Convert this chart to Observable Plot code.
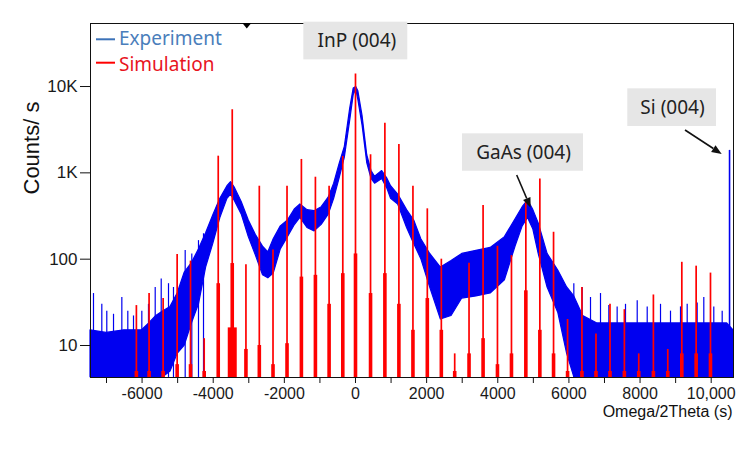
<!DOCTYPE html>
<html>
<head>
<meta charset="utf-8">
<script src="https://cdn.jsdelivr.net/npm/d3@7"></script>
<script src="https://cdn.jsdelivr.net/npm/@observablehq/plot@0.6"></script>
<style>
  html, body { margin: 0; padding: 0; background: #fff; }
  #chart svg { display: block; }
</style>
</head>
<body>
<div id="chart"></div>
<script>
// ---------- data ----------
// Experiment: envelope of the noisy measured curve (x in s, counts/s)
const expX  = [-7450,-7000,-6500,-6000,-5800,-5600,-5400,-5200,-5000,-4800,-4600,-4400,-4200,-4000,-3800,-3600,-3500,-3400,-3200,-3000,-2800,-2600,-2450,-2300,-2100,-1900,-1700,-1550,-1350,-1150,-950,-750,-600,-450,-300,-150,-50,20,80,200,330,450,550,750,900,1000,1200,1450,1650,1850,2100,2400,2700,3000,3400,3800,4200,4500,4700,4850,5000,5150,5400,5700,5950,6150,6400,6800,7500,8500,9500,10450,10627];
const expLo = [4.3,4.3,4.3,4.3,4.3,4.3,4.3,5,8,10,18,30,80,150,300,500,560,480,330,180,110,65,60,68,130,180,250,300,230,210,250,330,500,850,1500,4000,8000,9200,7000,3500,1300,850,750,850,650,500,430,230,150,100,47,20,22,35,37,40,57,140,240,300,220,115,47,24,8,4.3,4.3,4.3,4.3,4.3,4.3,4.3,4.3];
const expHi = [15,14,15,15,18,22,25,28,40,70,90,130,200,320,500,700,780,680,460,280,190,140,120,170,240,280,380,430,370,360,400,520,750,1250,2000,5500,9500,9900,8800,4500,1600,1050,900,1050,850,700,560,370,280,170,115,80,95,115,125,135,180,290,400,480,370,260,115,74,47,37,22,18,18,18,18,18,15];
// Noise spikes of the experiment in the background regions
const spikeX = [-7366,-7132,-6992,-6803,-6569,-6401,-6241,-6007,-5820,-5631,-5462,-5257,-5117,-4788,-4602,-4414,-4273,
                6138,6373,6607,6888,7122,7356,7591,7920,8201,8575,8856,9137,9325,9606,9792,10073,10309];
const spikeY = [40,30,25,23,36,25,22,25,30,47,59,52,47,126,115,164,197,
                52,47,36,40,29,28,30,33,28,30,25,28,30,31,36,28,25];
// Si (004) substrate peak
const siX = [10516];
const siY = [1820];

// Simulation: satellite peaks (position, peak height, height of the broad base)
const simX = [-6160,-5803,-5408,-5014,-4638,-4254,-3859,-3465,-3080,-2704,-2319,-1925,-1521,-1127,-742,-357,0,423,826,1220,1615,2019,2413,2789,3192,3587,3991,4385,4789,5183,5568,5962,6366,6761,7155,7559,7963,8375,8779,9174,9577,9980];
const simPeak = [29,40,35,113,95,12,1560,5370,86,700,128,700,1430,890,700,1550,14000,1620,3760,2130,700,383,100,8,90,418,141,110,480,850,205,20,47,13.6,30,26,8,38.5,9,92,83,69];
const simBase = [5,5,5,6,6,5,52,89,9,10,6,10.5,62,65,30,68,115,40,68,30,15,35,15,5,8,12,6,8,43,15,8,5,5,5,5,5,5,5,5,8,8,8];
const clusterX = [-3465];
const clusterY = [16];

// Axes
const xTicks = d3.range(-7000, 10001, 1000);
const yTicks = [10, 100, 1000, 10000];
const yTickLabels = ["10", "100", "1K", "10K"];
const xDomain = [-7450, 10627];
const yDomain = [4.26, 53700];

// Annotations
const notes = [
  {label: "InP (004)",  x: 40,   y: 33390, x1: -1453, x2: 1470,  y1: 20370, y2: 55600},
  {label: "GaAs (004)", x: 4723, y: 1720,  x1: 3008,  x2: 6410,  y1: 1044,  y2: 2830},
  {label: "Si (004)",   x: 8912, y: 5680,  x1: 7655,  x2: 10149, y1: 3440,  y2: 9400}
];
const arrows = [
  {x1: 4546, y1: 931,  x2: 4939,  y2: 389},
  {x1: 9278, y1: 3093, x2: 10309, y2: 1631}
];
const cursorX = -3042;
const legendItems = [
  {label: "Experiment", line: "#3c72b8", text: "#4a7ebb"},
  {label: "Simulation", line: "#ff0000", text: "#e8141e"}
];

// ---------- build tables ----------
const expData = expX.map((x, i) => ({x, lo: expLo[i], hi: expHi[i]}));
const spikes = spikeX.map((x, i) => ({x, y: spikeY[i]}));
const si = siX.map((x, i) => ({x, y: siY[i]}));
const sim = simX.map((x, i) => ({x, peak: simPeak[i], base: simBase[i]}));
const cluster = clusterX.map((x, i) => ({x, y: clusterY[i]}));
const yMin = yDomain[0];

const BLUE = "#0000f0";
const RED = "#ff0000";
const TICKFONT = "'Liberation Sans', Arial, sans-serif";
const NOTEFONT = "'Noto Sans', 'Open Sans', sans-serif";

function overlay(index, scales, values, dims) {
  const g = d3.create("svg:g");
  const sx = scales.x, sy = scales.y;
  // arrows with filled heads
  for (const a of arrows) {
    const X1 = sx(a.x1), Y1 = sy(a.y1), X2 = sx(a.x2), Y2 = sy(a.y2);
    const ang = Math.atan2(Y2 - Y1, X2 - X1);
    const L = 10, W = 4;
    const bx = X2 - L * Math.cos(ang), by = Y2 - L * Math.sin(ang);
    g.append("line").attr("x1", X1).attr("y1", Y1).attr("x2", bx).attr("y2", by)
      .attr("stroke", "#111").attr("stroke-width", 1.6);
    const px = -Math.sin(ang) * W, py = Math.cos(ang) * W;
    g.append("polygon")
      .attr("points", `${X2},${Y2} ${bx + px},${by + py} ${bx - px},${by - py}`)
      .attr("fill", "#111");
  }
  // cursor triangle at top
  const cx = sx(cursorX), top = dims.marginTop;
  g.append("polygon").attr("points", `${cx - 4.5},${top} ${cx + 4.5},${top} ${cx},${top + 5.5}`).attr("fill", "#000");
  // legend
  const lx = dims.marginLeft;
  legendItems.forEach((d, i) => {
    const yl = top + 16.3 + i * 23.4;
    g.append("line").attr("x1", lx + 6).attr("x2", lx + 25).attr("y1", yl).attr("y2", yl)
      .attr("stroke", d.line).attr("stroke-width", 2);
    g.append("text").attr("x", lx + 29).attr("y", top + 21.5 + i * 26.5)
      .attr("text-anchor", "start")
      .attr("fill", d.text).attr("font-family", NOTEFONT).attr("font-size", 19)
      .text(d.label);
  });
  return g.node();
}

const chart = Plot.plot({
  width: 750,
  height: 474,
  marginLeft: 90,
  marginRight: 17,
  marginTop: 23,
  marginBottom: 97,
  style: {fontFamily: TICKFONT, color: "#1a1a1a", background: "#fff"},
  x: {type: "linear", domain: xDomain},
  y: {type: "log", domain: yDomain},
  marks: [
    // experiment
    Plot.areaY(expData, {x: "x", y1: "lo", y2: "hi", fill: BLUE, stroke: BLUE, strokeWidth: 1.2}),
    Plot.ruleX(spikes, {x: "x", y1: yMin, y2: "y", stroke: BLUE, strokeWidth: 1.2}),
    Plot.ruleX(si, {x: "x", y1: yMin, y2: "y", stroke: BLUE, strokeWidth: 1.6}),
    // simulation
    Plot.ruleX(sim, {x: "x", y1: yMin, y2: "peak", stroke: RED, strokeWidth: 1.7}),
    Plot.ruleX(sim, {x: "x", y1: yMin, y2: "base", stroke: RED, strokeWidth: 3.6}),
    Plot.ruleX(cluster, {x: "x", y1: yMin, y2: "y", stroke: RED, strokeWidth: 9}),
    // frame & axes
    Plot.frame({stroke: "#111", strokeWidth: 1}),
    Plot.axisY({ticks: yTicks, tickFormat: d => yTickLabels[yTicks.indexOf(d)], tickSize: 10, tickPadding: 3, fontSize: 17, label: null, stroke: "#111"}),
    Plot.axisX({ticks: xTicks, tickFormat: d => d % 2000 ? "" : (d === 10000 ? "10,000" : String(d)), tickSize: 6, tickPadding: 4, fontSize: 16, label: null, stroke: "#111"}),
    Plot.text(["Counts/ s"], {frameAnchor: "left", rotate: -90, dx: -59, dy: -6, fontSize: 22, fill: "#111"}),
    Plot.text(["Omega/2Theta (s)"], {frameAnchor: "bottom-right", textAnchor: "end", dx: -1, dy: 39, fontSize: 16, fill: "#111"}),
    // annotations
    Plot.rect(notes, {x1: "x1", x2: "x2", y1: "y1", y2: "y2", fill: "#e6e6e6"}),
    Plot.text(notes, {x: "x", y: "y", text: "label", fontSize: 19, fontFamily: NOTEFONT, fill: "#222"}),
    overlay
  ]
});
document.getElementById("chart").appendChild(chart);
</script>
</body>
</html>
